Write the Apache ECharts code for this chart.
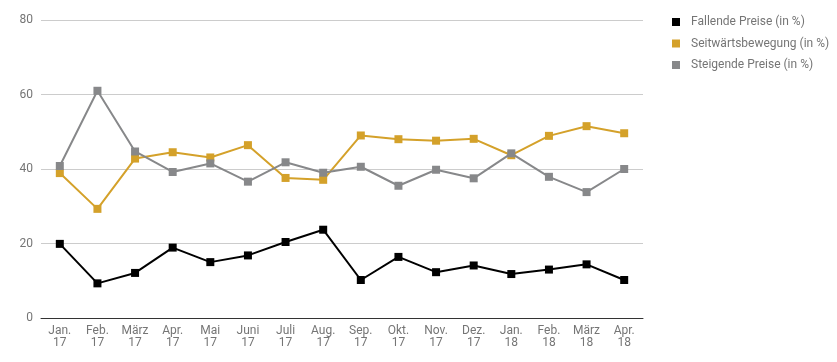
<!DOCTYPE html>
<html><head><meta charset="utf-8">
<script src="https://cdn.jsdelivr.net/npm/echarts@6/dist/echarts.min.js"></script>
<style>html,body{margin:0;padding:0;background:#fff}#c{width:837px;height:362px}</style>
</head><body><div id="c"></div>
<script>
const categories = ["Jan.\n17","Feb.\n17","März\n17","Apr.\n17","Mai\n17","Juni\n17","Juli\n17","Aug.\n17","Sep.\n17","Okt.\n17","Nov.\n17","Dez.\n17","Jan.\n18","Feb.\n18","März\n18","Apr.\n18"];
const fallende = [19.9,9.3,12.1,18.9,15.0,16.8,20.4,23.7,10.2,16.4,12.3,14.1,11.8,13.0,14.4,10.2];
const seitwaerts = [38.9,29.3,42.8,44.5,43.1,46.4,37.6,37.1,49.0,48.0,47.6,48.1,43.7,48.9,51.5,49.6];
const steigende = [40.8,61.0,44.7,39.2,41.5,36.6,41.8,39.0,40.6,35.5,39.8,37.5,44.2,37.9,33.8,40.0];
const seriesNames = ["Fallende Preise (in %)","Seitwärtsbewegung (in %)","Steigende Preise (in %)"];
const yTicks = [0,20,40,60,80];

const colors = ["#000000","#d4a12a","#87888a"];
const chart = echarts.init(document.getElementById('c'));
const mk = (name, data, color, z) => ({
  name, type:'line', data, z,
  symbol:'rect', symbolSize:8, showSymbol:true,
  lineStyle:{color, width:2}, itemStyle:{color},
  emphasis:{disabled:true}, animation:false
});
chart.setOption({
  animation:false,
  color: colors,
  textStyle:{fontFamily:'Roboto'},
  grid:{left:41, right:194, top:20, bottom:44},
  legend:{
    orient:'vertical', left:667, top:11, itemWidth:8, itemHeight:8, itemGap:9.5,
    icon:'rect',
    data: seriesNames,
    textStyle:{color:'#757575', fontSize:12, fontFamily:'Roboto', padding:[0,0,0,6]}
  },
  xAxis:{
    type:'category', data:categories, boundaryGap:true,
    axisLine:{lineStyle:{color:'#333', width:1}},
    axisTick:{show:false},
    axisLabel:{color:'#757575', fontSize:12, lineHeight:12, margin:7, interval:0, fontFamily:'Roboto'}
  },
  yAxis:{
    type:'value', min:yTicks[0], max:yTicks[yTicks.length-1], interval:20,
    axisLine:{show:false}, axisTick:{show:false},
    splitLine:{lineStyle:{color:'#cccccc', width:1}},
    axisLabel:{color:'#757575', fontSize:12, margin:8, fontFamily:'Roboto'}
  },
  series:[
    mk(seriesNames[0], fallende, colors[0], 3),
    mk(seriesNames[1], seitwaerts, colors[1], 2),
    mk(seriesNames[2], steigende, colors[2], 4)
  ]
});
</script></body></html>
